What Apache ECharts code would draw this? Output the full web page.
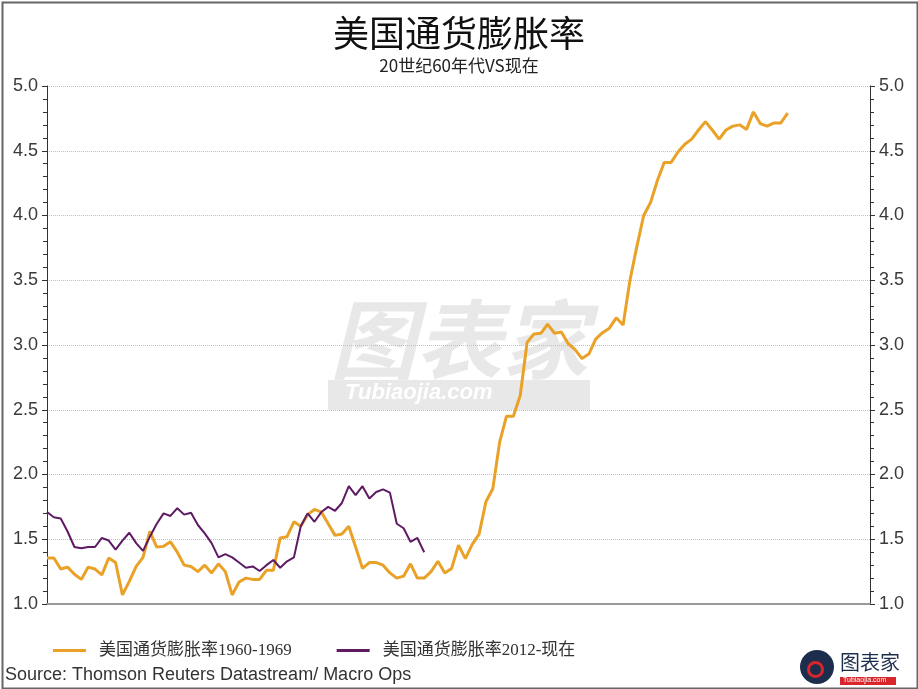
<!DOCTYPE html>
<html>
<head>
<meta charset="utf-8">
<script src="https://cdn.jsdelivr.net/npm/echarts@6/dist/echarts.min.js"></script>
<style>
html,body{margin:0;padding:0;background:#fff;}
#chart{width:918px;height:689px;}
</style>
</head>
<body>
<div id="chart"></div>
<script>
// ---- data ----
const seriesNames = ['美国通货膨胀率1960-1969', '美国通货膨胀率2012-现在'];
const inflation1960s = [
  1.355, 1.355, 1.27, 1.285, 1.23, 1.19, 1.285, 1.27, 1.225, 1.355,
  1.32, 1.07, 1.175, 1.29, 1.36, 1.56, 1.44, 1.445, 1.48, 1.40,
  1.30, 1.29, 1.25, 1.30, 1.24, 1.31, 1.25, 1.07, 1.17, 1.20,
  1.19, 1.19, 1.26, 1.26, 1.51, 1.52, 1.635, 1.60, 1.69, 1.73,
  1.71, 1.62, 1.53, 1.54, 1.60, 1.44, 1.275, 1.32, 1.32, 1.30,
  1.24, 1.20, 1.215, 1.31, 1.20, 1.20, 1.25, 1.33, 1.24, 1.275,
  1.455, 1.35, 1.46, 1.54, 1.79, 1.89, 2.25, 2.45, 2.45, 2.61,
  3.02, 3.085, 3.09, 3.16, 3.09, 3.10, 3.01, 2.965, 2.895, 2.93,
  3.045, 3.095, 3.13, 3.21, 3.155, 3.50, 3.76, 4.00, 4.10, 4.27,
  4.41, 4.41, 4.49, 4.55, 4.59, 4.66, 4.725, 4.66, 4.59, 4.66,
  4.69, 4.70, 4.665, 4.80, 4.71, 4.69, 4.715, 4.715, 4.79
];
const inflation2012 = [
  1.71, 1.67, 1.66, 1.56, 1.44, 1.43, 1.44, 1.44, 1.51, 1.49,
  1.42, 1.49, 1.55, 1.47, 1.41, 1.52, 1.62, 1.70, 1.68, 1.74,
  1.69, 1.705, 1.61, 1.545, 1.47, 1.36, 1.385, 1.36, 1.32, 1.28,
  1.29, 1.255, 1.30, 1.34, 1.28, 1.33, 1.36, 1.60, 1.70, 1.635,
  1.71, 1.75, 1.72, 1.78, 1.91, 1.84, 1.91, 1.815, 1.865, 1.885,
  1.86, 1.62, 1.585, 1.48, 1.51, 1.40
];
const monthCount = 121;
const categories = [];
for (let i = 0; i < monthCount; i++) categories.push('M' + (i + 1));
const yTicks = { min: 1, max: 5, interval: 0.5 };

// ---- chart ----
const chart = echarts.init(document.getElementById('chart'));
const axisColor = '#333';
function yAxis(pos, grid) {
  return {
    type: 'value', position: pos,
    min: yTicks.min, max: yTicks.max, interval: yTicks.interval,
    axisLine: { show: true, lineStyle: { color: axisColor, width: 1 } },
    axisTick: { show: true, length: 5, lineStyle: { color: axisColor } },
    minorTick: { show: true, splitNumber: 5, length: 4, lineStyle: { color: axisColor } },
    axisLabel: { formatter: v => v.toFixed(1), fontSize: 18, color: '#3a3a3a', fontFamily: 'Liberation Sans, Arial', margin: 9 },
    splitLine: { show: grid, lineStyle: { type: 'dotted', color: '#c0c0c0', width: 1 } },
    minorSplitLine: { show: false }
  };
}
chart.setOption({
  animation: false,
  backgroundColor: '#fff',
  title: {
    text: '美国通货膨胀率',
    subtext: '20世纪60年代VS现在',
    left: 'center', top: 10, itemGap: 6,
    textStyle: { fontSize: 36, fontWeight: 'normal', color: '#111', fontFamily: 'Noto Sans CJK SC' },
    subtextStyle: { fontSize: 17, color: '#222', fontFamily: 'Noto Sans CJK SC' }
  },
  legend: {
    left: 48, top: 637,
    icon: 'rect', itemWidth: 33, itemHeight: 3, itemGap: 45,
    textStyle: { fontSize: 17, color: '#333', fontFamily: 'Liberation Serif, Noto Sans CJK SC', padding: [0, 0, 0, 8] },
    data: seriesNames
  },
  grid: { left: 47, right: 48, top: 86, bottom: 85, containLabel: false },
  xAxis: {
    type: 'category', data: categories, boundaryGap: false,
    axisLine: { show: true, lineStyle: { color: '#999', width: 2 } },
    axisTick: { show: false }, axisLabel: { show: false }, splitLine: { show: false }
  },
  yAxis: [yAxis('left', true), yAxis('right', false)],
  graphic: [
    { type: 'rect', left: 0, top: 0, z: 100, silent: true,
      shape: { x: 0.5, y: 0.5, width: 915, height: 686 },
      style: { fill: 'none', stroke: '#666', lineWidth: 2 } },
    // watermark
    { type: 'text', left: 330, top: 296, z: -1, silent: true,
      style: { text: '图表家', fontSize: 86, fontWeight: 'bold', fontStyle: 'italic', fill: 'rgba(210,210,210,0.5)', fontFamily: 'Noto Sans CJK SC' } },
    { type: 'rect', left: 328, top: 380, z: -1, silent: true,
      shape: { width: 262, height: 30 }, style: { fill: 'rgba(210,210,210,0.5)' } },
    { type: 'text', left: 345, top: 382, z: -1, silent: true,
      style: { text: 'Tubiaojia.com', fontSize: 22, fontWeight: 'bold', fontStyle: 'italic', fill: '#fff', fontFamily: 'Liberation Sans' } },
    // source
    { type: 'text', left: 5, top: 666, silent: true,
      style: { text: 'Source: Thomson Reuters Datastream/ Macro Ops', fontSize: 18, fill: '#333', fontFamily: 'Liberation Sans, Arial' } },
    // logo
    { type: 'circle', left: 800, top: 650, silent: true,
      shape: { r: 17 }, style: { fill: '#1d2d4c' } },
    { type: 'circle', left: 806, top: 660, silent: true,
      shape: { r: 7 }, style: { fill: 'none', stroke: '#d8262c', lineWidth: 3 } },
    { type: 'text', left: 840, top: 652, silent: true,
      style: { text: '图表家', fontSize: 20, fill: '#1d2d4c', fontFamily: 'Noto Sans CJK SC' } },
    { type: 'rect', left: 840, top: 677, silent: true,
      shape: { width: 56, height: 8 }, style: { fill: '#d8262c' } },
    { type: 'text', left: 843, top: 677, silent: true,
      style: { text: 'Tubiaojia.com', fontSize: 7, fill: '#fff', fontFamily: 'Liberation Sans' } }
  ],
  series: [
    { name: seriesNames[0], type: 'line', data: inflation1960s, symbol: 'none', z: 3,
      lineStyle: { color: '#E9A227', width: 3 }, itemStyle: { color: '#E9A227' } },
    { name: seriesNames[1], type: 'line', data: inflation2012, symbol: 'none', z: 4,
      lineStyle: { color: '#5E1A62', width: 2 }, itemStyle: { color: '#5E1A62' } }
  ]
});
</script>
</body>
</html>
